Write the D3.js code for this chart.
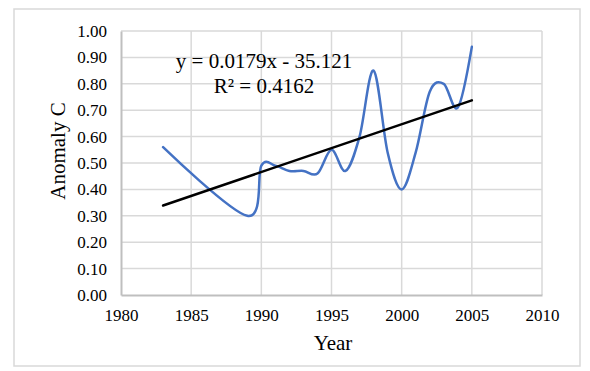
<!DOCTYPE html>
<html>
<head>
<meta charset="utf-8">
<script src="https://cdn.jsdelivr.net/npm/d3@7"></script>
<style>
  html, body { margin: 0; padding: 0; background: #fff; }
  svg { display: block; }
  text { font-family: "Liberation Serif", "Times New Roman", serif; fill: #000; }
</style>
</head>
<body>
<svg id="chart" width="590" height="371"></svg>
<script>
// ---- data ----
const years   = [1983, 1989, 1990, 1991, 1992, 1993, 1994, 1995, 1996, 1997, 1998, 1999, 2000, 2001, 2002, 2003, 2004, 2005];
const anomaly = [0.56, 0.30, 0.49, 0.49, 0.47, 0.47, 0.46, 0.55, 0.47, 0.60, 0.85, 0.54, 0.40, 0.54, 0.77, 0.80, 0.71, 0.94];
const xTicks = [1980, 1985, 1990, 1995, 2000, 2005, 2010];
const yTicks = [0, 0.1, 0.2, 0.3, 0.4, 0.5, 0.6, 0.7, 0.8, 0.9, 1.0];
const equationLines = ["y = 0.0179x - 35.121", "R² = 0.4162"];
const xTitle = "Year";
const yTitle = "Anomaly C";

// ---- layout ----
const svg = d3.select("#chart");
const plot = { left: 121, right: 542, top: 31, bottom: 295 };

svg.append("rect")
  .attr("x", 14).attr("y", 9).attr("width", 566).attr("height", 357)
  .attr("fill", "#fff").attr("stroke", "#d9d9d9").attr("stroke-width", 1.5);

const x = d3.scaleLinear().domain([1980, 2010]).range([plot.left, plot.right]);
const y = d3.scaleLinear().domain([0, 1]).range([plot.bottom, plot.top]);

// gridlines
const grid = svg.append("g");
grid.selectAll("line.h").data(yTicks.slice(1)).join("line")
  .attr("x1", plot.left).attr("x2", plot.right)
  .attr("y1", d => y(d)).attr("y2", d => y(d))
  .attr("stroke", "#d9d9d9").attr("stroke-width", 1.5);
grid.selectAll("line.v").data(xTicks.slice(1)).join("line")
  .attr("y1", plot.top).attr("y2", plot.bottom)
  .attr("x1", d => x(d)).attr("x2", d => x(d))
  .attr("stroke", "#d9d9d9").attr("stroke-width", 1.5);

// axes
const xAxis = d3.axisBottom(x).tickValues(xTicks).tickFormat(d3.format("d")).tickSize(0).tickPadding(10);
const gx = svg.append("g").attr("transform", `translate(0,${plot.bottom})`).call(xAxis);
gx.select(".domain").attr("stroke", "#bfbfbf").attr("stroke-width", 2);
gx.selectAll("text").attr("font-size", 17).attr("font-family", "Liberation Serif").attr("dy", "0.95em");

const yAxis = d3.axisLeft(y).tickValues(yTicks).tickFormat(d3.format(".2f")).tickSize(0).tickPadding(14);
const gy = svg.append("g").attr("transform", `translate(${plot.left},0)`).call(yAxis);
gy.select(".domain").attr("stroke", "#bfbfbf").attr("stroke-width", 2);
gy.selectAll("text").attr("font-size", 17).attr("font-family", "Liberation Serif");

// data line
const pts = years.map((yr, i) => [yr, anomaly[i]]);
const line = d3.line().x(d => x(d[0])).y(d => y(d[1])).curve(d3.curveCardinal.tension(0));
svg.append("path").datum(pts)
  .attr("d", line).attr("fill", "none")
  .attr("stroke", "#4472C4").attr("stroke-width", 2.5)
  .attr("stroke-linejoin", "round").attr("stroke-linecap", "round");

// linear trendline (least squares)
const mx = d3.mean(years), my = d3.mean(anomaly);
const sxy = d3.sum(years, (v, i) => (v - mx) * (anomaly[i] - my));
const sxx = d3.sum(years, v => (v - mx) * (v - mx));
const slope = sxy / sxx, intercept = my - slope * mx;
const ext = d3.extent(years);
svg.append("line")
  .attr("x1", x(ext[0])).attr("y1", y(intercept + slope * ext[0]))
  .attr("x2", x(ext[1])).attr("y2", y(intercept + slope * ext[1]))
  .attr("stroke", "#000").attr("stroke-width", 2.5).attr("stroke-linecap", "round");

// equation label
svg.append("text").attr("x", 264).attr("y", 68).attr("text-anchor", "middle")
  .attr("font-size", 21).text(equationLines[0]);
svg.append("text").attr("x", 264).attr("y", 93).attr("text-anchor", "middle")
  .attr("font-size", 21).text(equationLines[1]);

// axis titles
svg.append("text").attr("x", 333).attr("y", 350).attr("text-anchor", "middle")
  .attr("font-size", 21).text(xTitle);
svg.append("text").attr("transform", "translate(65,151) rotate(-90)")
  .attr("text-anchor", "middle").attr("font-size", 21).text(yTitle);
</script>
</body>
</html>
